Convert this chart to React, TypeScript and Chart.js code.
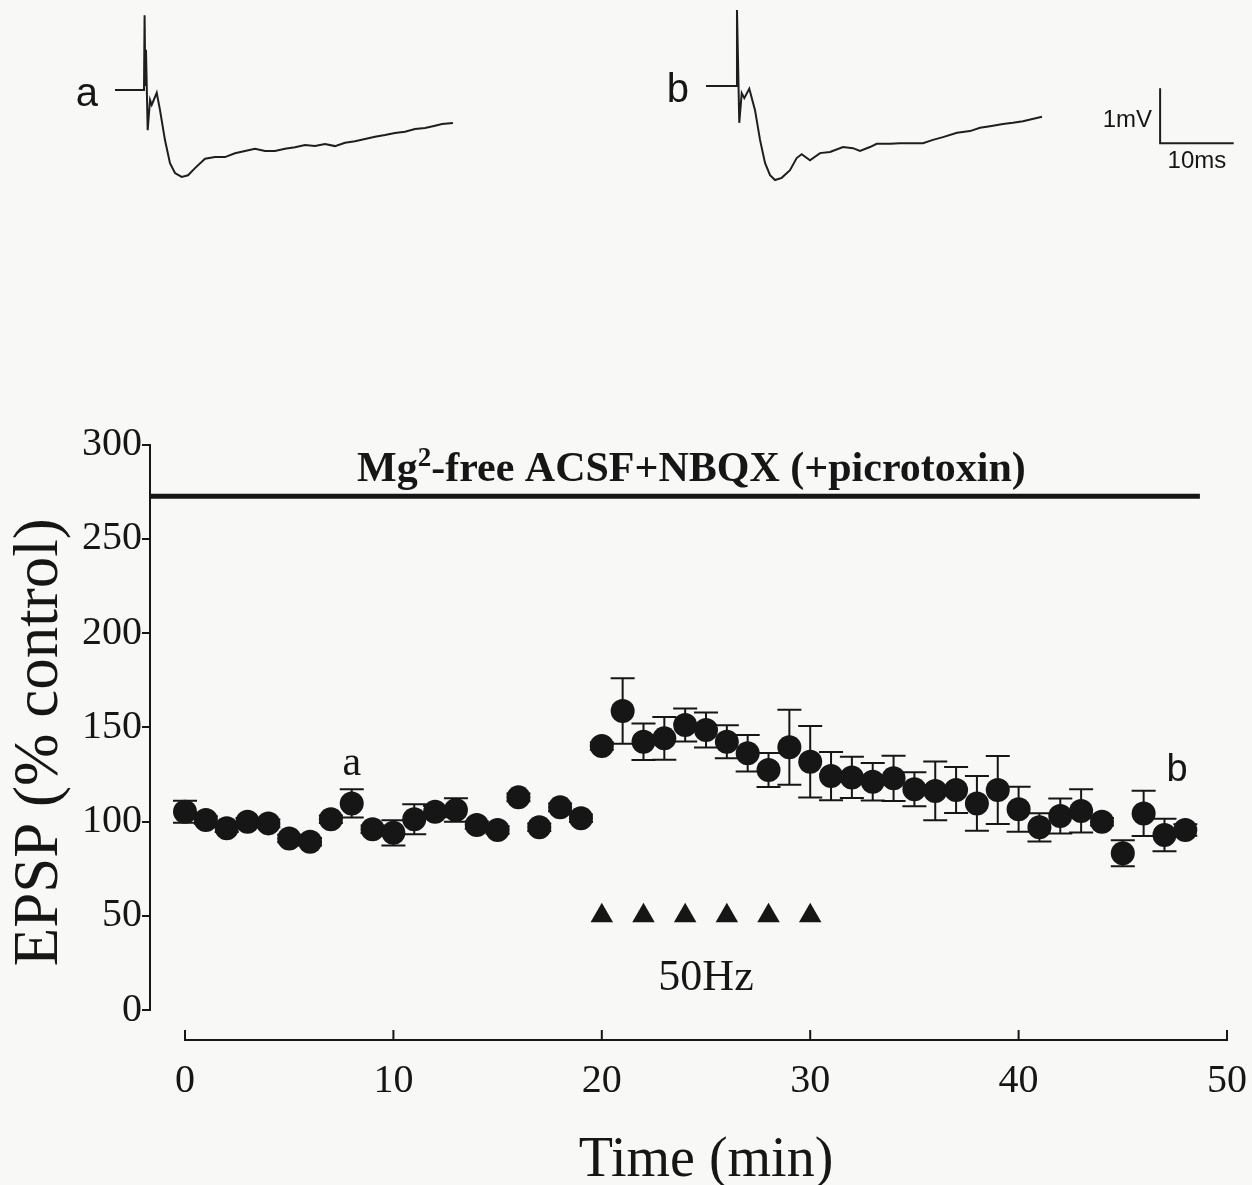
import React, { useEffect, useRef } from "react";
import { Chart, registerables } from "chart.js";

Chart.register(...registerables);

const SERIF = '"Liberation Serif", "Times New Roman", serif';
const SANS = '"Liberation Sans", Arial, sans-serif';
const INK = "#161616";

// ---------- main plot data ----------
const TIME_MIN = [
  0, 1, 2, 3, 4, 5, 6, 7, 8, 9, 10, 11, 12, 13, 14, 15, 16, 17, 18, 19, 20, 21, 22, 23, 24,
  25, 26, 27, 28, 29, 30, 31, 32, 33, 34, 35, 36, 37, 38, 39, 40, 41, 42, 43, 44, 45, 46, 47, 48,
];
const EPSP_PCT = [
  105.2, 100.8, 96.4, 99.9, 99.0, 91.0, 89.3, 101.2, 109.6, 95.9, 94.0, 101.2, 105.2, 106.1,
  98.1, 95.5, 112.8, 96.9, 107.5, 101.7, 140.1, 158.6, 142.3, 144.1, 151.2, 148.5, 142.3,
  136.2, 127.3, 139.4, 131.7, 124.1, 123.4, 121.1, 122.9, 117.1, 116.2, 116.7, 109.6, 116.7,
  106.5, 96.9, 102.9, 105.6, 99.9, 83.1, 104.3, 92.8, 95.5,
];
const EPSP_SEM = [
  5.8, 2, 2, 2, 2, 2, 2, 2, 7.5, 2, 6.7, 7.9, 3, 6.2, 2, 2, 2, 2, 2, 2, 2, 17.4, 9.7, 11.3,
  8.8, 9.3, 8.8, 9.7, 9, 19.9, 19, 12.8, 10.9, 10, 12, 9, 15.6, 12.2, 14.5, 18, 12, 7.5, 9.3,
  11.5, 2, 6.9, 12, 8.6, 3,
];
const STIM_TIMES = [20, 22, 24, 26, 28, 30];
const STIM_LEVEL = 50;
const DRUG_LEVEL = 272.5;
const DRUG_END = 48.7;
const DRUG_LABEL_CENTER = 24.3;
const X_RANGE = [-1.68, 50];
const Y_RANGE = [0, 300];
const X_TICKS = [0, 10, 20, 30, 40, 50];
const Y_TICKS = [0, 50, 100, 150, 200, 250, 300];
const DRUG_LABEL = ["Mg", "2", "-free ACSF+NBQX (+picrotoxin)"];
const STIM_LABEL = "50Hz";
const X_TITLE = "Time (min)";
const Y_TITLE = "EPSP (% control)";
const Y_TITLE_CENTER = 142; // value the rotated title is centred on
const MARK_A = { label: "a", index: 8 };
const MARK_B = { label: "b", t: 47.6, v: 121.5 };

// ---------- example traces (ms, mV) ----------
const TRACE_A_MS = [
  0, 3.94, 4.02, 4.12, 4.21, 4.44, 4.76, 4.99, 5.67, 6.11, 6.79, 7.47, 8.15, 9.06, 9.92,
  10.87, 12.23, 13.59, 14.95, 16.3, 17.66, 19.02, 20.38, 21.74, 23.1, 24.46, 25.82, 27.17,
  28.53, 29.89, 31.25, 32.61, 33.97, 35.33, 36.68, 38.04, 39.4, 40.76, 42.12, 43.48, 44.43,
  45.92,
];
const TRACE_A_MV = [
  0, 0, 1.36, 0.09, 0.73, -0.73, -0.18, -0.27, -0.05, -0.36, -0.91, -1.33, -1.51, -1.58,
  -1.55, -1.42, -1.25, -1.22, -1.22, -1.15, -1.11, -1.07, -1.11, -1.11, -1.07, -1.04, -1.0,
  -1.02, -0.98, -1.02, -0.96, -0.93, -0.89, -0.85, -0.82, -0.78, -0.76, -0.71, -0.69, -0.65,
  -0.62, -0.6,
];
const TRACE_B_MS = [
  0, 4.08, 4.21, 4.52, 4.85, 5.2, 5.88, 6.66, 7.34, 8.02, 8.7, 9.38, 10.29, 11.41, 12.32, 13.0,
  14.13, 15.49, 16.85, 18.61, 19.97, 20.92, 22.28, 23.19, 25.0, 26.36, 27.72, 29.48, 30.84,
  32.2, 34.1, 35.87, 37.23, 38.59, 40.35, 41.71, 43.07, 45.65,
];
const TRACE_B_MV = [
  0, 0, 1.38, -0.67, -0.13, -0.22, -0.05, -0.44, -0.98, -1.4, -1.62, -1.71, -1.67, -1.53,
  -1.31, -1.24, -1.35, -1.22, -1.2, -1.11, -1.13, -1.18, -1.11, -1.05, -1.05, -1.04, -1.04,
  -1.04, -0.98, -0.93, -0.85, -0.82, -0.76, -0.73, -0.69, -0.67, -0.64, -0.56,
];
const SCALE_BAR_AT = { ms: 61.7, mv: -1.04 };
const SCALE_MV = 1;
const SCALE_MS = 10;
const SCALE_LABELS = ["1mV", "10ms"];

const PX_PER_MS = 7.36;
const PX_PER_MV = 55;

function MainChart() {
  const ref = useRef<HTMLCanvasElement>(null);
  useEffect(() => {
    const canvas = ref.current as HTMLCanvasElement;
    const decor = {
      id: "decor",
      beforeDatasetsDraw(chart: any) {
        const { ctx } = chart;
        const x = chart.scales.x;
        const y = chart.scales.y;
        ctx.save();
        ctx.strokeStyle = INK;
        ctx.lineWidth = 2;
        TIME_MIN.forEach((t, i) => {
          const px = x.getPixelForValue(t);
          const top = y.getPixelForValue(EPSP_PCT[i] + EPSP_SEM[i]);
          const bot = y.getPixelForValue(EPSP_PCT[i] - EPSP_SEM[i]);
          ctx.beginPath();
          ctx.moveTo(px, top);
          ctx.lineTo(px, bot);
          ctx.moveTo(px - 12, top);
          ctx.lineTo(px + 12, top);
          ctx.moveTo(px - 12, bot);
          ctx.lineTo(px + 12, bot);
          ctx.stroke();
        });
        ctx.restore();
      },
      afterDraw(chart: any) {
        const { ctx, chartArea } = chart;
        const x = chart.scales.x;
        const y = chart.scales.y;
        ctx.save();
        // detached x axis
        const axisY = chartArea.bottom + 30;
        ctx.strokeStyle = INK;
        ctx.lineWidth = 2;
        ctx.beginPath();
        ctx.moveTo(x.getPixelForValue(X_TICKS[0]), axisY);
        ctx.lineTo(x.getPixelForValue(X_TICKS[X_TICKS.length - 1]), axisY);
        X_TICKS.forEach((v) => {
          const px = x.getPixelForValue(v);
          ctx.moveTo(px, axisY + 1);
          ctx.lineTo(px, axisY - 10);
        });
        ctx.stroke();

        ctx.fillStyle = INK;
        ctx.textBaseline = "alphabetic";
        // x title
        ctx.font = `56px ${SERIF}`;
        ctx.textAlign = "center";
        ctx.fillText(
          X_TITLE,
          (x.getPixelForValue(X_TICKS[0]) + x.getPixelForValue(X_TICKS[X_TICKS.length - 1])) / 2,
          chartArea.bottom + 166
        );

        // y title (rotated)
        ctx.save();
        ctx.translate(40, y.getPixelForValue(Y_TITLE_CENTER));
        ctx.rotate(-Math.PI / 2);
        ctx.font = `63px ${SERIF}`;
        ctx.textAlign = "center";
        ctx.textBaseline = "middle";
        ctx.fillText(Y_TITLE, 0, 0);
        ctx.restore();
        ctx.textBaseline = "alphabetic";

        // drug label with superscript
        const big = `bold 42px ${SERIF}`;
        const small = `bold 27px ${SERIF}`;
        ctx.font = big;
        const w1 = ctx.measureText(DRUG_LABEL[0]).width;
        const w3 = ctx.measureText(DRUG_LABEL[2]).width;
        ctx.font = small;
        const w2 = ctx.measureText(DRUG_LABEL[1]).width;
        const total = w1 + w2 + w3;
        let sx = x.getPixelForValue(DRUG_LABEL_CENTER) - total / 2;
        const base = y.getPixelForValue(DRUG_LEVEL) - 15;
        ctx.textAlign = "left";
        ctx.font = big;
        ctx.fillText(DRUG_LABEL[0], sx, base);
        sx += w1;
        ctx.font = small;
        ctx.fillText(DRUG_LABEL[1], sx, base - 15);
        sx += w2;
        ctx.font = big;
        ctx.fillText(DRUG_LABEL[2], sx, base);

        // 50Hz label
        const stimMid = (STIM_TIMES[0] + STIM_TIMES[STIM_TIMES.length - 1]) / 2;
        ctx.font = `44px ${SERIF}`;
        ctx.textAlign = "center";
        ctx.fillText(STIM_LABEL, x.getPixelForValue(stimMid), y.getPixelForValue(STIM_LEVEL) + 74);

        // a / b marks
        const ia = MARK_A.index;
        ctx.font = `42px ${SERIF}`;
        ctx.fillText(
          MARK_A.label,
          x.getPixelForValue(TIME_MIN[ia]),
          y.getPixelForValue(EPSP_PCT[ia] + EPSP_SEM[ia]) - 14
        );
        ctx.font = `38px ${SANS}`;
        ctx.fillText(MARK_B.label, x.getPixelForValue(MARK_B.t), y.getPixelForValue(MARK_B.v));
        ctx.restore();
      },
    };

    const chart = new Chart(canvas, {
      type: "scatter",
      data: {
        datasets: [
          {
            label: "drug",
            data: [
              { x: X_RANGE[0], y: DRUG_LEVEL },
              { x: DRUG_END, y: DRUG_LEVEL },
            ],
            showLine: true,
            borderColor: INK,
            borderWidth: 5,
            pointRadius: 0,
          },
          {
            label: "EPSP",
            data: TIME_MIN.map((t, i) => ({ x: t, y: EPSP_PCT[i] })),
            pointStyle: "circle",
            pointRadius: 12,
            backgroundColor: INK,
            borderColor: INK,
            borderWidth: 0,
          },
          {
            label: "50Hz",
            data: STIM_TIMES.map((t) => ({ x: t, y: STIM_LEVEL })),
            pointStyle: "triangle",
            pointRadius: 13,
            backgroundColor: INK,
            borderColor: INK,
            borderWidth: 0,
          },
        ],
      },
      options: {
        responsive: false,
        animation: false,
        devicePixelRatio: 1,
        events: [],
        layout: { padding: { top: 444.5, right: 25, left: 0, bottom: 0 } },
        plugins: { legend: { display: false }, tooltip: { enabled: false } },
        scales: {
          x: {
            type: "linear",
            min: X_RANGE[0],
            max: X_RANGE[1],
            afterBuildTicks: (s: any) => {
              s.ticks = X_TICKS.map((v) => ({ value: v }));
            },
            afterFit: (s: any) => {
              s.height = 175;
            },
            border: { display: false },
            grid: {
              display: true,
              drawOnChartArea: false,
              drawTicks: true,
              tickLength: 47,
              color: "rgba(0,0,0,0)",
            },
            ticks: {
              font: { family: SERIF, size: 40 },
              color: INK,
              padding: 0,
              maxRotation: 0,
              autoSkip: false,
            },
          },
          y: {
            type: "linear",
            min: Y_RANGE[0],
            max: Y_RANGE[1],
            afterBuildTicks: (s: any) => {
              s.ticks = Y_TICKS.map((v) => ({ value: v }));
            },
            afterFit: (s: any) => {
              s.width = 150;
            },
            border: { display: true, color: INK, width: 2 },
            grid: {
              display: true,
              drawOnChartArea: false,
              drawTicks: true,
              tickLength: 8,
              color: INK,
              lineWidth: 2,
            },
            ticks: { font: { family: SERIF, size: 40 }, color: INK, padding: 0 },
            title: { display: false, text: Y_TITLE },
          },
        },
      },
      plugins: [decor],
    } as any);
    return () => chart.destroy();
  }, []);
  return (
    <canvas
      ref={ref}
      width={1252}
      height={1185}
      style={{ position: "absolute", left: 0, top: 0, width: 1252, height: 1185 }}
    />
  );
}

type TraceProps = {
  ms: number[];
  mv: number[];
  label: string;
  box: { left: number; top: number; width: number; height: number };
  anchor: { x: number; y: number };
  withScaleBar?: boolean;
};

function TraceChart({ ms, mv, label, box, anchor, withScaleBar }: TraceProps) {
  const ref = useRef<HTMLCanvasElement>(null);
  useEffect(() => {
    const canvas = ref.current as HTMLCanvasElement;
    const datasets: any[] = [
      {
        label: "trace " + label,
        data: ms.map((t, i) => ({ x: t, y: mv[i] })),
        showLine: true,
        borderColor: "#1e1e1e",
        borderWidth: 2,
        pointRadius: 0,
        tension: 0,
      },
    ];
    if (withScaleBar) {
      datasets.push({
        label: "scale bar",
        data: [
          { x: SCALE_BAR_AT.ms, y: SCALE_BAR_AT.mv + SCALE_MV },
          { x: SCALE_BAR_AT.ms, y: SCALE_BAR_AT.mv },
          { x: SCALE_BAR_AT.ms + SCALE_MS, y: SCALE_BAR_AT.mv },
        ],
        showLine: true,
        borderColor: "#1e1e1e",
        borderWidth: 2,
        pointRadius: 0,
        tension: 0,
      });
    }
    const labels = {
      id: "traceLabels",
      afterDraw(chart: any) {
        const { ctx } = chart;
        const x = chart.scales.x;
        const y = chart.scales.y;
        ctx.save();
        ctx.fillStyle = INK;
        ctx.textBaseline = "alphabetic";
        ctx.font = `40px ${SANS}`;
        ctx.textAlign = "right";
        ctx.fillText(label, x.getPixelForValue(0) - 17, y.getPixelForValue(0) + 16);
        if (withScaleBar) {
          const bx = x.getPixelForValue(SCALE_BAR_AT.ms);
          const by = y.getPixelForValue(SCALE_BAR_AT.mv);
          ctx.font = `24px ${SANS}`;
          ctx.textAlign = "right";
          ctx.fillText(SCALE_LABELS[0], bx - 8, by - 16);
          ctx.textAlign = "center";
          ctx.fillText(
            SCALE_LABELS[1],
            (bx + x.getPixelForValue(SCALE_BAR_AT.ms + SCALE_MS)) / 2,
            by + 25
          );
        }
        ctx.restore();
      },
    };
    const chart = new Chart(canvas, {
      type: "scatter",
      data: { datasets },
      options: {
        responsive: false,
        animation: false,
        devicePixelRatio: 1,
        events: [],
        layout: { padding: 0 },
        plugins: { legend: { display: false }, tooltip: { enabled: false } },
        scales: {
          x: {
            type: "linear",
            display: false,
            min: -anchor.x / PX_PER_MS,
            max: (box.width - anchor.x) / PX_PER_MS,
          },
          y: {
            type: "linear",
            display: false,
            min: -(box.height - anchor.y) / PX_PER_MV,
            max: anchor.y / PX_PER_MV,
          },
        },
      },
      plugins: [labels],
    } as any);
    return () => chart.destroy();
  }, []);
  return (
    <canvas
      ref={ref}
      width={box.width}
      height={box.height}
      style={{
        position: "absolute",
        left: box.left,
        top: box.top,
        width: box.width,
        height: box.height,
      }}
    />
  );
}

export default function App() {
  return (
    <div
      style={{
        position: "absolute",
        left: 0,
        top: 0,
        width: 1252,
        height: 1185,
        background: "#f8f8f7",
        overflow: "hidden",
      }}
    >
      <MainChart />
      <TraceChart
        ms={TRACE_A_MS}
        mv={TRACE_A_MV}
        label="a"
        box={{ left: 40, top: 0, width: 440, height: 200 }}
        anchor={{ x: 75, y: 90 }}
      />
      <TraceChart
        ms={TRACE_B_MS}
        mv={TRACE_B_MV}
        label="b"
        box={{ left: 630, top: 0, width: 622, height: 200 }}
        anchor={{ x: 76, y: 86 }}
        withScaleBar
      />
    </div>
  );
}
